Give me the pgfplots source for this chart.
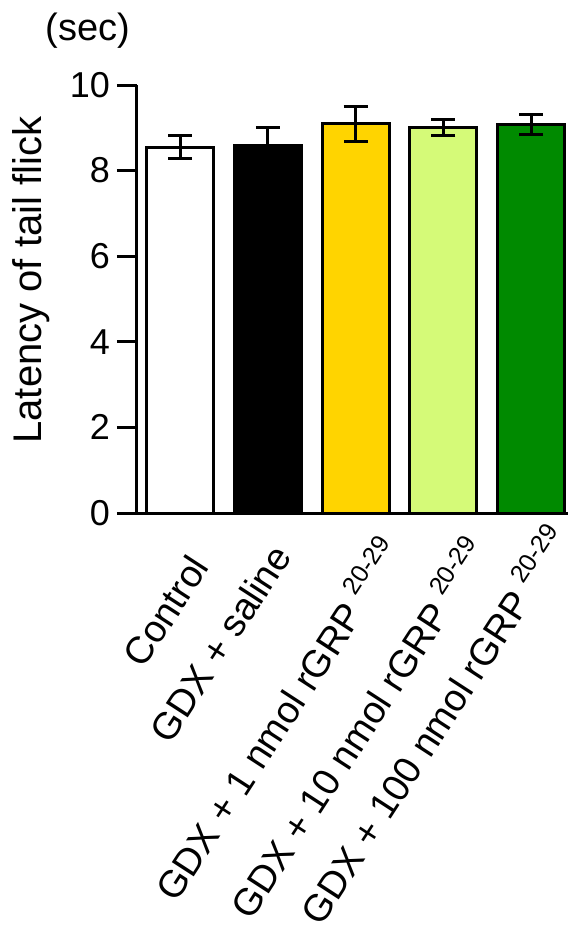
\documentclass[border=0pt]{standalone}
\usepackage{fontspec}
\setmainfont{Liberation Sans}
\usepackage{pgfplots}
\pgfplotsset{compat=1.18}

\definecolor{gold}{HTML}{FFD400}
\definecolor{lime}{HTML}{D5FA78}
\definecolor{dkgreen}{HTML}{008A00}

% raised peptide range after rGRP
\newcommand{\pep}{\hspace{5pt}\raisebox{8.5pt}{\fontsize{12.5}{13}\selectfont 20-29}}
% x label: #1 lowers it off the tick, #2 (trailing space) slides it along the slant
\newcommand{\xl}[3]{\raisebox{-#1}{#3\hspace{#2}}}

\begin{document}
\begin{tikzpicture}
\useasboundingbox (-68.5pt,-215.5pt) rectangle (215.5pt,256.5pt);
\begin{axis}[
    at={(0pt,0pt)}, anchor=south west,
    width=215.5pt, height=214pt, scale only axis,
    xmin=-0.49, xmax=4.42,
    ymin=0, ymax=10,
    axis x line*=bottom, axis y line*=left,
    axis line style={line width=1.5pt},
    ytick={0,2,4,6,8,10},
    xtick={0,1,2,3,4},
    xticklabels={
        {\xl{22pt}{5.8pt}{Control}},
        {\xl{17pt}{2.8pt}{GDX + saline}},
        {\xl{26pt}{-5.6pt}{GDX + 1 nmol rGRP\pep}},
        {\xl{25.4pt}{-5.1pt}{GDX + 10 nmol rGRP\pep}},
        {\xl{19.5pt}{-8.5pt}{GDX + 100 nmol rGRP\pep}}},
    tick align=outside,
    major tick length=10pt,
    y tick style={line width=1.5pt, black},
    x tick style={draw=none},
    /pgf/number format/assume math mode=true,
    yticklabel style={font=\fontsize{18}{20}\selectfont},
    xticklabel style={font=\fontsize{19}{21}\selectfont, rotate=57, anchor=base east, inner sep=0pt},
    ylabel={Latency of tail flick},
    every axis y label/.style={at={(axis description cs:-0.246,0.544)}, rotate=90, anchor=center, font=\fontsize{20}{22}\selectfont},
    ybar, bar width=33.5pt, bar shift=0pt,
    clip=false,
]
\addplot[fill=white, draw=black, line width=1.5pt,
    error bars/.cd, y dir=both, y explicit,
    error bar style={line width=1.5pt, black},
    error mark options={rotate=90, mark size=6pt, line width=1.5pt, black}]
    coordinates {(0,8.55) +- (0,0.26)};
\addplot[fill=black, draw=black, line width=1.5pt,
    error bars/.cd, y dir=both, y explicit,
    error bar style={line width=1.5pt, black},
    error mark options={rotate=90, mark size=6pt, line width=1.5pt, black}]
    coordinates {(1,8.58) +- (0,0.42)};
\addplot[fill=gold, draw=black, line width=1.5pt,
    error bars/.cd, y dir=both, y explicit,
    error bar style={line width=1.5pt, black},
    error mark options={rotate=90, mark size=6pt, line width=1.5pt, black}]
    coordinates {(2,9.09) +- (0,0.41)};
\addplot[fill=lime, draw=black, line width=1.5pt,
    error bars/.cd, y dir=both, y explicit,
    error bar style={line width=1.5pt, black},
    error mark options={rotate=90, mark size=6pt, line width=1.5pt, black}]
    coordinates {(3,9.00) +- (0,0.185)};
\addplot[fill=dkgreen, draw=black, line width=1.5pt,
    error bars/.cd, y dir=both, y explicit,
    error bar style={line width=1.5pt, black},
    error mark options={rotate=90, mark size=6pt, line width=1.5pt, black}]
    coordinates {(4,9.08) +- (0,0.23)};
\node[font=\fontsize{19}{21}\selectfont] at (axis description cs:-0.114,1.126) {(sec)};
\end{axis}
\end{tikzpicture}
\end{document}
